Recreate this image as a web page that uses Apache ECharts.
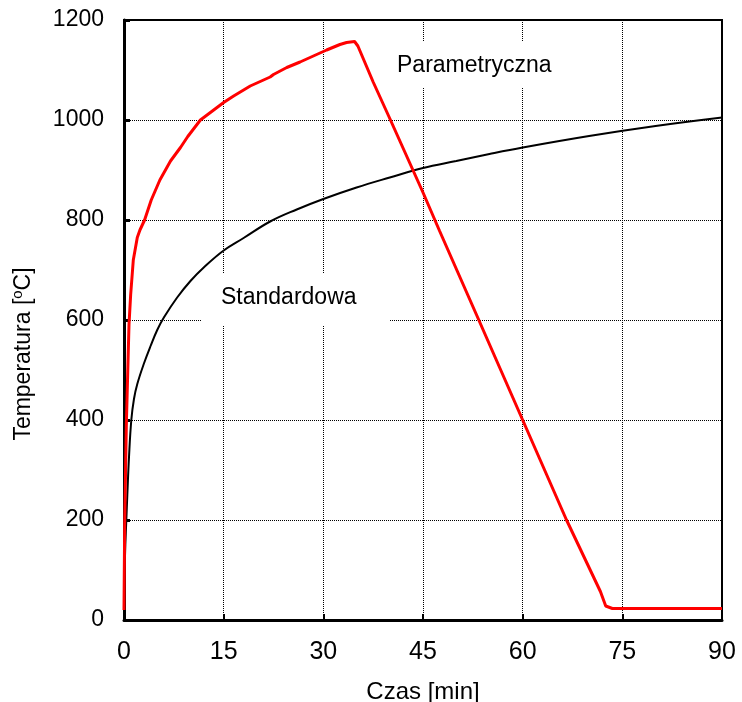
<!DOCTYPE html>
<html>
<head>
<meta charset="utf-8">
<script src="https://cdn.jsdelivr.net/npm/echarts@6/dist/echarts.min.js"></script>
<style>
  html, body { margin: 0; padding: 0; background: #fff; }
  #chart { width: 742px; height: 702px; }
</style>
</head>
<body>
<div id="chart"></div>
<script>
// krzywa standardowa (odczyt z wykresu)
var stdTime = [0, 0.1, 0.2, 0.35, 0.5, 0.75, 1.1, 1.5, 2, 3, 4, 5, 6, 8, 10, 12, 15, 18, 22, 26, 30, 35, 40, 45, 50, 55, 60, 70, 80, 90];
var stdTemp = [20, 100, 150, 200, 250, 325, 400, 442, 472, 513, 548, 580, 605, 645, 678, 705, 739, 764, 797, 821, 842, 865, 885, 904, 918, 932, 945, 968, 988, 1005];

// krzywa parametryczna
var paramTime = [0, 0.1, 0.35, 0.75, 1.0, 1.4, 2.0, 2.4, 3.1, 4.1, 5.4, 7.0, 8.5, 9.6, 11.5, 13.5, 15.0, 16.5, 19.0, 21.0, 22.0, 22.5, 24.5, 26.5, 28.5, 30.5, 32.5, 33.5, 34.7, 35.2, 37.5, 40, 45, 47.5, 53, 60, 66.6, 71.7, 72.5, 73.5, 80, 90];
var paramTemp = [20, 190, 390, 590, 650, 720, 765, 780, 800, 840, 880, 918, 945, 967, 1000, 1020, 1035, 1048, 1068, 1080, 1086, 1091, 1105, 1116, 1128, 1140, 1151, 1155, 1157, 1148, 1076, 1003, 855, 778, 612, 400, 200, 57, 28, 23, 23, 23];

var xTicks = [0, 15, 30, 45, 60, 75, 90];
var yTicks = [0, 200, 400, 600, 800, 1000, 1200];

var zip = (xs, ys) => xs.map((x, i) => [x, ys[i]]);

var chart = echarts.init(document.getElementById('chart'));
var font = 'Liberation Sans, Arial, sans-serif';

var option = {
  backgroundColor: '#fff',
  animation: false,
  grid: {
    left: 124, right: 20, top: 20, bottom: 82,
    show: true, borderColor: '#000', borderWidth: 2,
    outerBoundsMode: 'none'
  },
  xAxis: {
    type: 'value',
    min: xTicks[0], max: xTicks[xTicks.length - 1], interval: 15,
    axisLine: { lineStyle: { color: '#000', width: 3 } },
    axisTick: { inside: true, length: 6, lineStyle: { color: '#000', width: 2 } },
    axisLabel: { color: '#000', fontSize: 25, fontFamily: font, margin: 20 },
    splitLine: { lineStyle: { color: '#000', type: 'dotted', width: 1 } },
    name: 'Czas [min]',
    nameLocation: 'middle',
    nameGap: 60,
    nameTextStyle: { color: '#000', fontSize: 24, fontFamily: font }
  },
  yAxis: {
    type: 'value',
    min: yTicks[0], max: yTicks[yTicks.length - 1], interval: 200,
    axisLine: { lineStyle: { color: '#000', width: 3 } },
    axisTick: { inside: true, length: 6, lineStyle: { color: '#000', width: 3 } },
    axisLabel: { color: '#000', fontSize: 23, fontFamily: font, margin: 20, padding: [14, 0, 0, 0],
      formatter: v => String(v) },
    splitLine: { lineStyle: { color: '#000', type: 'dotted', width: 1 } }
  },
  graphic: [
    { type: 'rect', z: 1, shape: { x: 201, y: 273, width: 188, height: 52 }, style: { fill: '#fff' } },
    { type: 'rect', z: 1, shape: { x: 377, y: 41, width: 209, height: 47 }, style: { fill: '#fff' } },
    { type: 'text', z: 5, x: 221, y: 298,
      style: { text: 'Standardowa', fill: '#000', font: '23px ' + font, textVerticalAlign: 'middle', verticalAlign: 'middle' } },
    { type: 'text', z: 5, x: 397, y: 66,
      style: { text: 'Parametryczna', fill: '#000', font: '23px ' + font, textVerticalAlign: 'middle', verticalAlign: 'middle' } },
    { type: 'text', z: 5, x: 24, y: 354, rotation: Math.PI / 2,
      style: {
        text: '{n|Temperatura [}{s|o}{n|C]}',
        align: 'center', verticalAlign: 'middle',
        rich: {
          n: { fontSize: 23, fontFamily: font, fill: '#000', color: '#000', lineHeight: 26 },
          s: { fontSize: 15, fontFamily: font, fill: '#000', color: '#000', lineHeight: 26, padding: [0, 0, 13, 0] }
        }
      } }
  ],
  series: [
    {
      name: 'Standardowa',
      type: 'line',
      data: zip(stdTime, stdTemp),
      smooth: 0.4,
      showSymbol: false,
      z: 3,
      lineStyle: { color: '#000', width: 2 }
    },
    {
      name: 'Parametryczna',
      type: 'line',
      data: zip(paramTime, paramTemp),
      showSymbol: false,
      z: 4,
      lineStyle: { color: '#ff0000', width: 3 }
    }
  ]
};

chart.setOption(option);
</script>
</body>
</html>
